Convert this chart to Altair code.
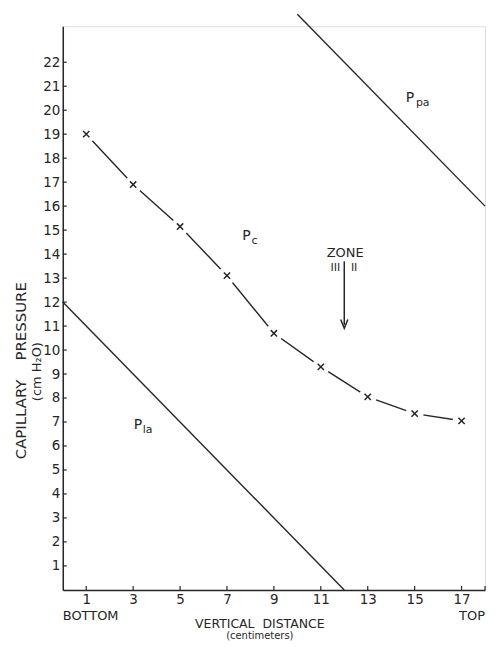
import altair as alt
import pandas as pd

# ---- data ----
distance = [1, 3, 5, 7, 9, 11, 13, 15, 17]
pc_values = [19.0, 16.9, 15.15, 13.1, 10.7, 9.3, 8.05, 7.35, 7.05]
ppa_x = [10, 18]
ppa_y = [24, 16]
pla_x = [0, 12]
pla_y = [12, 0]
x_ticks = [1, 3, 5, 7, 9, 11, 13, 15, 17, 18]
x_labels = [1, 3, 5, 7, 9, 11, 13, 15, 17]
y_ticks = list(range(1, 23))

INK = "#262626"
FONT = "DejaVu Sans"
W, H = 424, 566

pc_df = pd.DataFrame({"x": distance, "y": pc_values})
ppa_df = pd.DataFrame({"x": ppa_x, "y": ppa_y})
pla_df = pd.DataFrame({"x": pla_x, "y": pla_y})

xs = alt.Scale(domain=[0, 18], nice=False, zero=False)
ys = alt.Scale(domain=[0, 23.5], nice=False, zero=False)

x_axis = alt.Axis(values=x_labels, ticks=False, grid=False, title=None,
                  domainColor=INK, domainWidth=1.5, labelFont=FONT,
                  labelFontSize=13.5, labelColor=INK, labelPadding=3,
                  labelFlush=False, labelOverlap=False)
y_axis = alt.Axis(values=y_ticks, ticks=False, grid=False, title=None,
                  domainColor=INK, domainWidth=1.5, labelFont=FONT,
                  labelFontSize=13.5, labelColor=INK, labelPadding=3,
                  labelFlush=False, labelOverlap=False)
Xp = alt.X("x:Q", scale=xs, axis=x_axis)
Yp = alt.Y("y:Q", scale=ys, axis=y_axis)

pc_line = alt.Chart(pc_df).mark_line(color=INK, strokeWidth=1.4).encode(x=Xp, y=Yp)
pc_gaps = alt.Chart(pc_df).mark_point(shape="circle", filled=True, color="white",
                                      opacity=1, size=330).encode(x=Xp, y=Yp)
pc_marks = alt.Chart(pc_df).mark_point(shape="M-1,-1L1,1M-1,1L1,-1", filled=False,
                                       color=INK, opacity=1, size=40,
                                       strokeWidth=1.5).encode(x=Xp, y=Yp)

ppa_line = alt.Chart(ppa_df).mark_line(color=INK, strokeWidth=1.4, clip=False).encode(x=Xp, y=Yp)
pla_line = alt.Chart(pla_df).mark_line(color=INK, strokeWidth=1.4).encode(x=Xp, y=Yp)

# inward tick marks
xt_df = pd.DataFrame({"x": x_ticks})
yt_df = pd.DataFrame({"y": y_ticks})
x_tick_marks = alt.Chart(xt_df).mark_rule(color=INK, strokeWidth=1.2).encode(
    x=Xp, y=alt.value(H), y2=alt.value(H - 4))
y_tick_marks = alt.Chart(yt_df).mark_rule(color=INK, strokeWidth=1.2).encode(
    y=Yp, x=alt.value(0), x2=alt.value(4))

# zone arrow
arrow_df = pd.DataFrame({"x": [12, 12], "y": [13.7, 11.05]})
arrow_line = alt.Chart(arrow_df).mark_line(color=INK, strokeWidth=1.5).encode(x=Xp, y=Yp)
arrow_head = alt.Chart(pd.DataFrame({"x": [12], "y": [11.09]})).mark_point(
    shape="M-0.8,-1L0,1L0.8,-1", filled=False, color=INK, opacity=1, size=80,
    strokeWidth=1.5).encode(x=Xp, y=Yp)


def label(x, y, text, size=13, align="center", angle=0, dx=0, dy=0):
    return alt.Chart(pd.DataFrame({"x": [x], "y": [y], "t": [text]})).mark_text(
        font=FONT, fontSize=size, color=INK, align=align, baseline="middle",
        angle=angle, dx=dx, dy=dy, clip=False).encode(x=Xp, y=Yp, text="t:N")


texts = [
    label(14.8, 20.5, "P", 14),
    label(14.8, 20.5, "pa", 11, align="left", dx=6, dy=5),
    label(7.83, 14.76, "P", 14),
    label(7.83, 14.76, "c", 11, align="left", dx=5, dy=5),
    label(3.2, 6.87, "P", 14),
    label(3.2, 6.87, "la", 11, align="left", dx=5, dy=5),
    label(12.04, 14.06, "ZONE", 13),
    label(11.62, 13.4, "III", 11),
    label(12.42, 13.4, "II", 11),
    label(0, -1.1, "BOTTOM", 13, align="left"),
    label(18, -1.1, "TOP", 13, align="right"),
    label(8.4, -1.44, "VERTICAL\u00a0\u00a0DISTANCE", 12.5),
    label(8.4, -1.93, "(centimeters)", 10),
    label(-1.8, 9.14, "CAPILLARY\u00a0\u00a0\u00a0\u00a0PRESSURE", 15, angle=270),
    label(-1.08, 9.1, "(cm\u00a0H\u2082O)", 13, angle=270),
]

chart = alt.layer(
    pla_line, ppa_line, pc_line, pc_gaps, pc_marks,
    x_tick_marks, y_tick_marks, arrow_line, arrow_head, *texts
).properties(
    width=W, height=H,
    padding={"left": 5, "top": 2, "right": 0, "bottom": 0},
).configure_view(stroke=None).configure_axis(labelOverlap=False).configure(
    background="white")

chart.save("out.html", embed_options={"renderer": "svg", "actions": False})
